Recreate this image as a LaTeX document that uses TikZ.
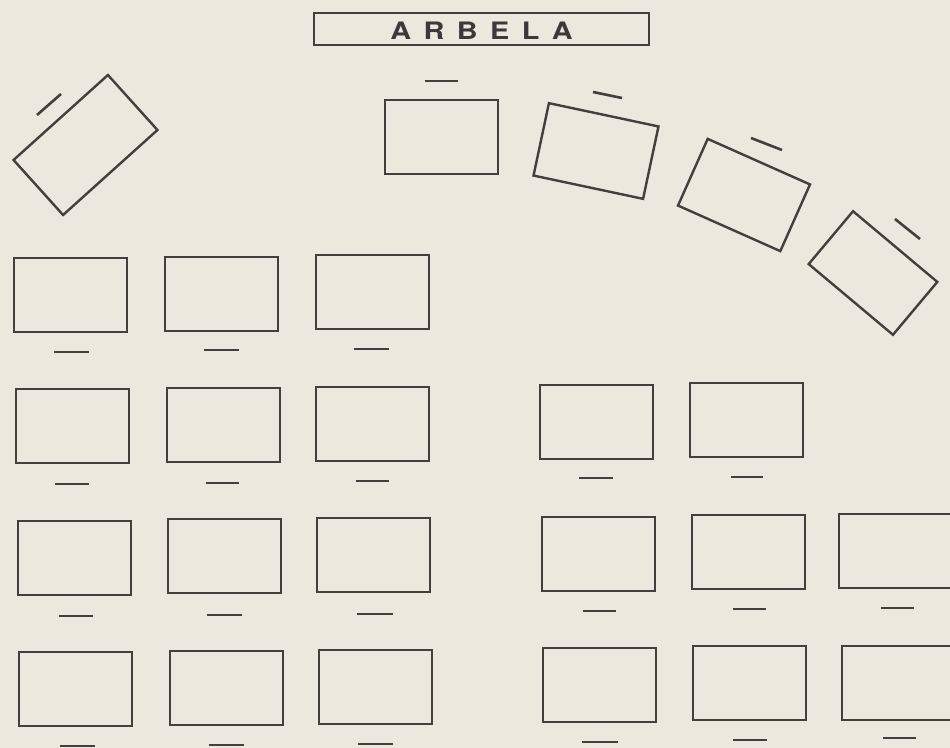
\documentclass[tikz,border=0pt]{standalone}
\usepackage{fontspec}
\usepackage{graphicx}
\newfontfamily\titlefont{TeX Gyre Heros}
\definecolor{paper}{RGB}{236,232,222}
\definecolor{ink}{RGB}{66,64,61}
\definecolor{titleink}{RGB}{60,58,56}
\newcommand\wideletter[1]{\scalebox{1.2}[1]{#1}}
\tikzset{
  tbl/.style={shape=rectangle, draw=ink, line width=2.4bp, minimum width=113bp, minimum height=74bp, inner sep=0pt, outer sep=0pt},
  chair/.style={draw=ink, line width=2.6bp},
  titlebox/.style={shape=rectangle, draw=ink, line width=2.4bp, minimum width=335bp, minimum height=32bp, inner sep=0pt},
}
\begin{document}
\begin{tikzpicture}[x=1bp,y=-1bp]
\useasboundingbox (0,0) rectangle (950,748);
\clip (0,0) rectangle (950,748);
\fill[paper] (0,0) rectangle (950,748);

% title
\node[titlebox] (tbox) at (481.5,29) {};
\node[anchor=base, inner sep=0pt, text=titleink] (title) at (481.5,40)
  {\titlefont\bfseries\fontsize{24bp}{24bp}\selectfont
   \wideletter{A}\kern12.5bp\wideletter{R}\kern12.5bp\wideletter{B}\kern12.5bp\wideletter{E}\kern12.5bp\wideletter{L}\kern12.5bp\wideletter{A}};

% top arc of tables
\node[tbl, minimum width=127bp, rotate=42] (tl) at (85.5,145) {};
\draw[chair] (37,115) -- (61,94);
\node[tbl] (ta) at (441.5,137) {};
\draw[chair] (425,81) -- (458,81);
\node[tbl, minimum width=112bp, rotate=-12] (tb) at (596,151) {};
\draw[chair] (593,92) -- (622,98);
\node[tbl, minimum width=112bp, minimum height=73bp, rotate=-24] (tc) at (744,195) {};
\draw[chair] (751,138) -- (782,150);
\node[tbl, minimum width=110bp, minimum height=69bp, rotate=-40] (td) at (873,273) {};
\draw[chair] (895,219) -- (920,239);

% left group
\node[tbl] (l11) at (70.5,295) {};
\node[tbl] (l12) at (221.5,294) {};
\node[tbl] (l13) at (372.5,292) {};
\draw[chair] (54,352) -- (89,352);
\draw[chair] (204,350) -- (239,350);
\draw[chair] (354,349) -- (389,349);

\node[tbl] (l21) at (72.5,426) {};
\node[tbl] (l22) at (223.5,425) {};
\node[tbl] (l23) at (372.5,424) {};
\draw[chair] (55,484) -- (89,484);
\draw[chair] (206,483) -- (239,483);
\draw[chair] (356,481) -- (389,481);

\node[tbl] (l31) at (74.5,558) {};
\node[tbl] (l32) at (224.5,556) {};
\node[tbl] (l33) at (373.5,555) {};
\draw[chair] (59,616) -- (93,616);
\draw[chair] (207,615) -- (242,615);
\draw[chair] (357,614) -- (393,614);

\node[tbl] (l41) at (75.5,689) {};
\node[tbl] (l42) at (226.5,688) {};
\node[tbl] (l43) at (375.5,687) {};
\draw[chair] (60,746) -- (95,746);
\draw[chair] (209,745) -- (244,745);
\draw[chair] (358,744) -- (393,744);

% right group
\node[tbl] (r11) at (596.5,422) {};
\node[tbl] (r12) at (746.5,420) {};
\draw[chair] (579,478) -- (613,478);
\draw[chair] (731,477) -- (763,477);

\node[tbl] (r21) at (598.5,554) {};
\node[tbl] (r22) at (748.5,552) {};
\node[tbl] (r23) at (895.5,551) {};
\draw[chair] (583,611) -- (616,611);
\draw[chair] (733,609) -- (766,609);
\draw[chair] (881,608) -- (914,608);

\node[tbl] (r31) at (599.5,685) {};
\node[tbl] (r32) at (749.5,683) {};
\node[tbl] (r33) at (898.5,683) {};
\draw[chair] (582,742) -- (618,742);
\draw[chair] (733,740) -- (767,740);
\draw[chair] (883,738) -- (916,738);
\end{tikzpicture}
\end{document}
